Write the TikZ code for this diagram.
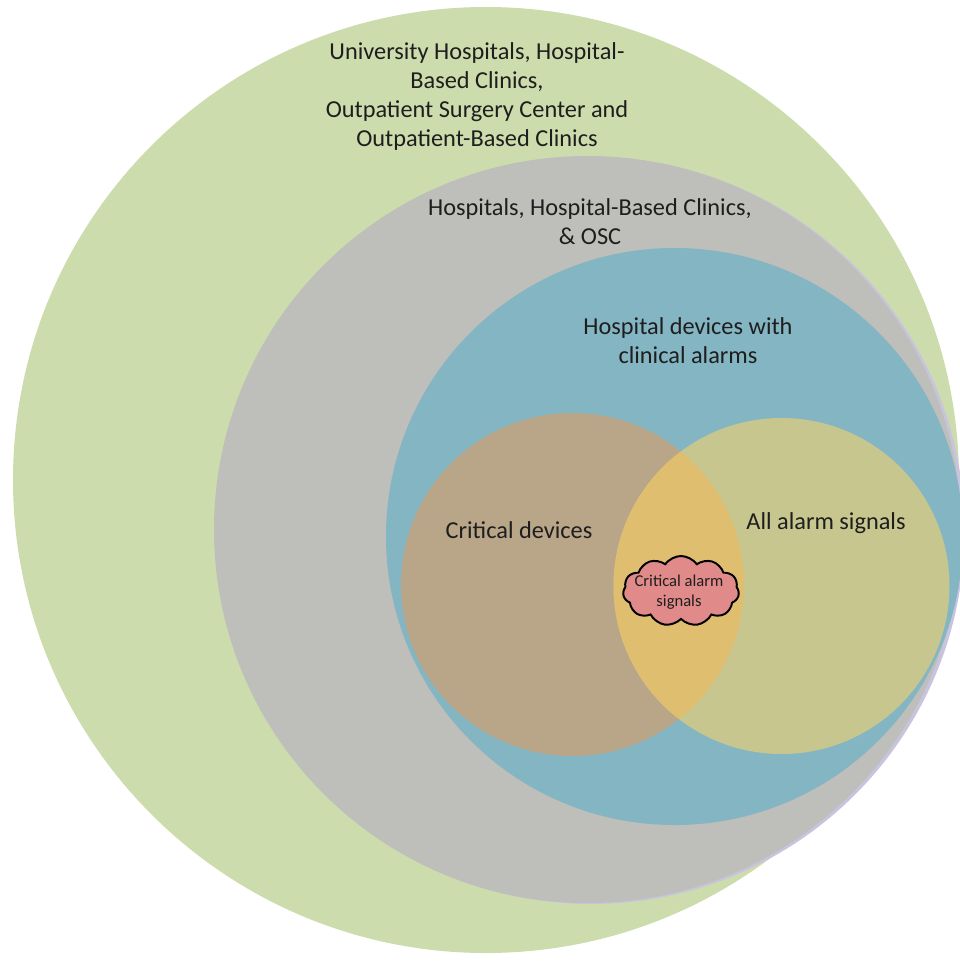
\documentclass[tikz,border=0pt]{standalone}
\usepackage{fontspec}
\setmainfont{Carlito}
\usetikzlibrary{calc,shapes.symbols}
\definecolor{sitegreen}{RGB}{205,220,172}
\definecolor{hospgray}{RGB}{190,190,186}
\definecolor{alarmblue}{RGB}{132,181,195}
\definecolor{shadelilac}{RGB}{200,196,222}
\definecolor{critbrown}{RGB}{185,165,136}
\definecolor{signolive}{RGB}{198,198,142}
\definecolor{overlapgold}{RGB}{224,190,112}
\definecolor{cloudpink}{RGB}{224,138,138}
\definecolor{inkdark}{RGB}{30,30,30}
\tikzset{setlabel/.style={align=center,text=inkdark,font=\fontsize{17.3}{20.6}\selectfont},
  smalllabel/.style={align=center,text=inkdark,font=\fontsize{11.8}{14.2}\selectfont}}

\begin{document}
\begin{tikzpicture}[x=0.025cm,y=-0.025cm]
  \useasboundingbox (0,0) rectangle (960,962);
  \coordinate (sites) at (486,480);
  \coordinate (hosp) at (587.5,529.5);
  \coordinate (alarms) at (674.5,536.5);
  \coordinate (crit) at (572.5,584.5);
  \coordinate (signals) at (781.5,586);
  \fill [sitegreen] (sites) circle [radius=473];
  \fill [shadelilac] ($(hosp)+(3.5,1)$) circle [radius=373.5];
  \fill [hospgray] (hosp) circle [radius=373.5];
  \fill [alarmblue] (alarms) circle [radius=288.5];
  \fill [critbrown] (crit) circle [radius=171.5];
  \fill [signolive] (signals) circle [radius=168];
  \begin{scope}
    \clip (crit) circle [radius=171.5];
    \fill [overlapgold] (signals) circle [radius=168];
  \end{scope}
  \node [setlabel] (sitestext) at (477,96.5)
    {University Hospitals, Hospital-\\Based Clinics,\\Outpatient Surgery Center and\\Outpatient-Based Clinics};
  \node [setlabel] (hosptext) at (590,221.5) {Hospitals, Hospital-Based Clinics,\\\& OSC};
  \node [setlabel] (alarmstext) at (688,341) {Hospital devices with\\clinical alarms};
  \node [setlabel] (crittext) at (519,530) {Critical devices};
  \node [setlabel] (signalstext) at (826,523) {All alarm signals};
  \node [cloud,cloud puffs=11,cloud puff arc=110,aspect=1.7,draw=black,line width=1.4pt,
    fill=cloudpink,minimum width=2.9cm,minimum height=1.75cm,inner sep=0pt] (critcloud) at (681,591) {};
  \node [smalllabel] (cloudtext) at (679,592) {Critical alarm\\signals};
\end{tikzpicture}
\end{document}
